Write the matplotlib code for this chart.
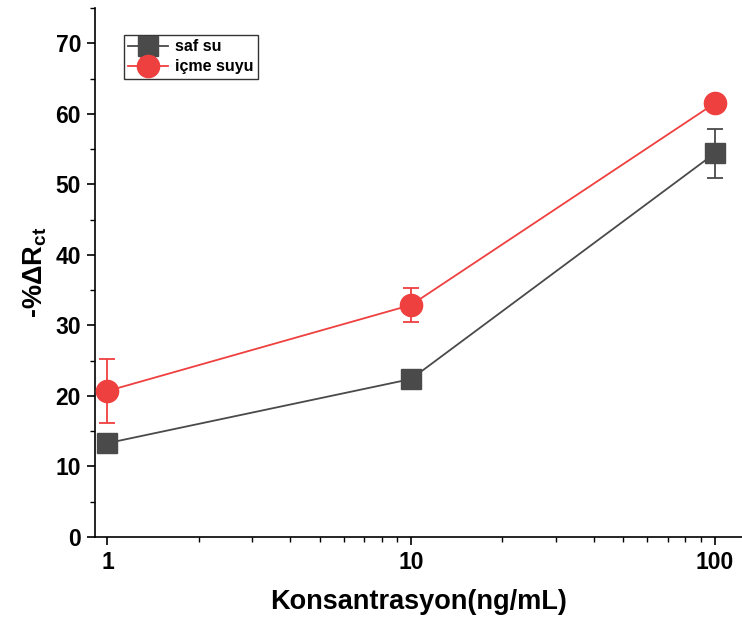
import matplotlib
matplotlib.use("Agg")
import matplotlib.pyplot as plt
from matplotlib.ticker import MultipleLocator, LogLocator, NullFormatter, FixedLocator

plt.rcParams["font.family"] = ["Liberation Sans", "DejaVu Sans"]
plt.rcParams["font.weight"] = "bold"
plt.rcParams["mathtext.fontset"] = "custom"
plt.rcParams["mathtext.rm"] = "Liberation Sans:bold"
plt.rcParams["mathtext.it"] = "Liberation Sans:bold"
plt.rcParams["mathtext.bf"] = "Liberation Sans:bold"

# konsantrasyon (ng/mL)
konsantrasyon = [1, 10, 100]

# saf su
saf_su = [13.3, 22.4, 54.4]
saf_su_err = [0.6, 1.2, 3.45]

# içme suyu
icme_suyu = [20.7, 32.9, 61.5]
icme_suyu_err = [4.5, 2.35, 0.5]

x_tick_labels = ["1", "10", "100"]

GRAY = "#4a4a4a"
RED = "#ef4040"

fig = plt.figure(figsize=(7.42, 6.28), dpi=100)
ax = fig.add_axes([0.128, 0.145, 0.872, 0.842])

ax.errorbar(konsantrasyon, saf_su, yerr=saf_su_err, color=GRAY, marker="s",
            markersize=14, linewidth=1.3, elinewidth=1.3, capsize=6,
            capthick=1.3, label="saf su", zorder=3)
ax.errorbar(konsantrasyon, icme_suyu, yerr=icme_suyu_err, color=RED, marker="o",
            markersize=16, linewidth=1.3, elinewidth=1.3, capsize=6,
            capthick=1.3, label="içme suyu", zorder=4)

ax.set_xscale("log")
ax.set_xlim(0.91, 123)
ax.set_ylim(0, 75)

ax.xaxis.set_major_locator(FixedLocator(konsantrasyon))
ax.set_xticklabels(x_tick_labels)
ax.xaxis.set_minor_locator(LogLocator(base=10, subs=range(2, 10)))
ax.xaxis.set_minor_formatter(NullFormatter())
ax.yaxis.set_major_locator(MultipleLocator(10))
ax.yaxis.set_minor_locator(MultipleLocator(5))

for side in ["top", "right"]:
    ax.spines[side].set_visible(False)
for side in ["left", "bottom"]:
    ax.spines[side].set_linewidth(1.2)

ax.tick_params(which="major", direction="out", length=6, width=1.2,
               labelsize=16.5, pad=4)
ax.tick_params(which="minor", direction="out", length=3.5, width=1.0)
for lbl in ax.get_xticklabels() + ax.get_yticklabels():
    lbl.set_fontweight("bold")

ax.set_xlabel("Konsantrasyon(ng/mL)", fontsize=19.5, fontweight="bold", labelpad=11)
ax.set_ylabel(r"-%ΔR$_{\mathrm{ct}}$", fontsize=19.5, fontweight="bold", labelpad=5)

leg = ax.legend(loc="upper left", bbox_to_anchor=(0.032, 0.965), fontsize=11.5,
                frameon=True, fancybox=False, edgecolor="black",
                handlelength=2.5, handletextpad=0.4, borderpad=0.3,
                labelspacing=0.3, markerscale=1.0)
leg.get_frame().set_linewidth(1.0)
for t in leg.get_texts():
    t.set_fontweight("bold")

fig.savefig("out.png", dpi=100)
